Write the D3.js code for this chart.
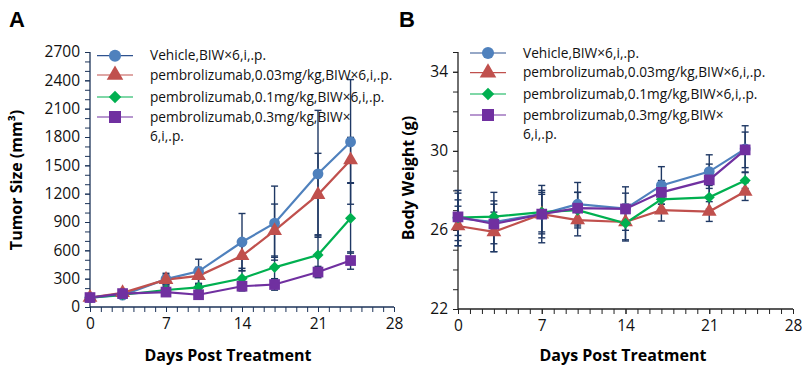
<!DOCTYPE html>
<html>
<head>
<meta charset="utf-8">
<script src="https://cdn.jsdelivr.net/npm/d3@7"></script>
<style>
  body { margin: 0; background: #fff; }
  text { font-family: "Open Sans", "Noto Sans", sans-serif; }
</style>
</head>
<body>
<svg id="chart" width="805" height="371"></svg>
<script>
// Shared x values (days post treatment)
const days = [0, 3, 7, 10, 14, 17, 21, 24];

const seriesLabels = [
    ["Vehicle,BIW×6,i,.p."],
    ["pembrolizumab,0.03mg/kg,BIW×6,i,.p."],
    ["pembrolizumab,0.1mg/kg,BIW×6,i,.p."],
    ["pembrolizumab,0.3mg/kg,BIW×", "6,i,.p."]
];
const seriesColors = ["#4f81bd", "#c0504d", "#00b050", "#7030a0"];
const seriesShapes = ["circle", "triangle", "diamond", "square"];

// Tumor size (mm3) means and SDs
const tumorVehicle = [100, 125, 295, 378, 688, 888, 1410, 1748];
const tumorP003 = [100, 150, 290, 330, 542, 808, 1190, 1556];
const tumorP01 = [100, 130, 180, 208, 302, 420, 550, 940];
const tumorP03 = [100, 142, 158, 130, 220, 238, 370, 492];
const tumorVehicleSD = [20, 25, 62, 128, 302, 392, 672, 660];
const tumorP003SD = [15, 25, 50, 90, 160, 282, 437, 240];
const tumorP01SD = [15, 20, 40, 40, 108, 120, 215, 370];
const tumorP03SD = [15, 20, 30, 30, 50, 60, 60, 92];

// Body weight (g) means and SDs
const weightVehicle = [26.6, 26.4, 26.8, 27.3, 27.08, 28.25, 28.95, 30.1];
const weightP003 = [26.2, 25.9, 26.8, 26.5, 26.4, 27.0, 26.93, 27.94];
const weightP01 = [26.62, 26.67, 26.9, 27.0, 26.34, 27.55, 27.65, 28.5];
const weightP03 = [26.66, 26.3, 26.8, 27.1, 27.06, 27.9, 28.53, 30.05];
const weightVehicleSD = [1.4, 1.5, 1.45, 1.1, 1.1, 0.95, 0.85, 1.17];
const weightP003SD = [1.0, 1.0, 1.2, 0.8, 0.9, 0.55, 0.5, 0.45];
const weightP01SD = [0.9, 0.8, 1.0, 0.9, 0.9, 0.6, 0.6, 0.4];
const weightP03SD = [1.2, 1.0, 1.0, 0.8, 0.8, 0.6, 0.8, 0.9];

const xTicks = [0, 7, 14, 21, 28];
const tumorTicks = [0, 300, 600, 900, 1200, 1500, 1800, 2100, 2400, 2700];
const weightTicks = [22, 26, 30, 34];

const errColor = "#1f3864";
const svg = d3.select("#chart");

function buildSeries(means, sds) {
    return means.map((m, i) => ({
        label: seriesLabels[i],
        color: seriesColors[i],
        shape: seriesShapes[i],
        points: days.map((d, j) => ({ day: d, value: m[j], sd: sds[i][j] }))
    }));
}

function markerPath(shape, big) {
    const k = big ? 1.25 : 1;
    if (shape === "circle") return d3.symbol(d3.symbolCircle, 92 * k)();
    if (shape === "triangle") return d3.symbol(d3.symbolTriangle, 95 * k)();
    if (shape === "square") return d3.symbol(d3.symbolSquare, 115 * k)();
    return d3.symbol(d3.symbolSquare, 62 * k)();
}

function drawPanel(opt) {
    const g = svg.append("g");
    const x = d3.scaleLinear().domain([0, 28]).range([opt.left, opt.right]);
    const y = d3.scaleLinear().domain(opt.yDomain).range([opt.bottom, opt.top]);

    // minor ticks
    g.append("g")
        .attr("transform", "translate(0," + opt.bottom + ")")
        .call(d3.axisBottom(x).tickValues(d3.range(0, 29)).tickSize(5).tickFormat(""))
        .call(a => a.select(".domain").remove())
        .selectAll("line").attr("stroke", opt.axisColor);
    g.append("g")
        .attr("transform", "translate(" + opt.left + ",0)")
        .call(d3.axisLeft(y).tickValues(opt.minorTicks).tickSize(5).tickFormat(""))
        .call(a => a.select(".domain").remove())
        .selectAll("line").attr("stroke", opt.axisColor);

    // major axes
    const xa = g.append("g")
        .attr("transform", "translate(0," + opt.bottom + ")")
        .call(d3.axisBottom(x).tickValues(xTicks).tickSize(5).tickPadding(6).tickSizeOuter(0));
    const ya = g.append("g")
        .attr("transform", "translate(" + opt.left + ",0)")
        .call(d3.axisLeft(y).tickValues(opt.ticks).tickFormat(d3.format("d")).tickSize(5).tickPadding(5).tickSizeOuter(0));
    [xa, ya].forEach(a => {
        a.select(".domain").attr("stroke", opt.axisColor).attr("stroke-width", 1.3);
        a.selectAll("line").attr("stroke", opt.axisColor);
        a.selectAll("text").attr("fill", "#111").style("font-size", "15.5px");
    });
    ya.select(".domain").attr("d", "M0," + opt.bottom + "V" + opt.top);
    xa.select(".domain").attr("d", "M" + opt.left + ",0H" + opt.right);

    // error bars
    const eb = g.append("g").attr("stroke", errColor).attr("stroke-width", 1.4);
    opt.series.forEach(s => {
        s.points.forEach(p => {
            const cx = x(p.day), y1 = y(p.value + p.sd), y0 = y(p.value - p.sd);
            eb.append("line").attr("x1", cx).attr("x2", cx).attr("y1", y1).attr("y2", y0);
            eb.append("line").attr("x1", cx - 3.5).attr("x2", cx + 3.5).attr("y1", y1).attr("y2", y1);
            eb.append("line").attr("x1", cx - 3.5).attr("x2", cx + 3.5).attr("y1", y0).attr("y2", y0);
        });
    });

    // lines
    const line = d3.line().x(p => x(p.day)).y(p => y(p.value));
    opt.series.forEach(s => {
        g.append("path").datum(s.points)
            .attr("d", line)
            .attr("fill", "none")
            .attr("stroke", s.color)
            .attr("stroke-width", 2.2);
    });

    // markers
    opt.series.forEach(s => {
        g.selectAll(null).data(s.points).enter().append("path")
            .attr("d", markerPath(s.shape, false))
            .attr("transform", p => "translate(" + x(p.day) + "," + y(p.value) + ")" + (s.shape === "diamond" ? " rotate(45)" : ""))
            .attr("fill", s.color);
    });

    // legend
    const lg = g.append("g");
    opt.series.forEach((s, i) => {
        const ly = opt.legendRows[i];
        lg.append("line")
            .attr("x1", opt.legendX - 18).attr("x2", opt.legendX + 18)
            .attr("y1", ly).attr("y2", ly)
            .attr("stroke", i === 0 ? "#2f528f" : s.color).attr("stroke-width", 1.2);
        lg.append("path")
            .attr("d", markerPath(s.shape, true))
            .attr("transform", "translate(" + opt.legendX + "," + ly + ")" + (s.shape === "diamond" ? " rotate(45)" : ""))
            .attr("fill", s.color);
        s.label.forEach((t, k) => {
            lg.append("text")
                .attr("x", opt.legendX + 35)
                .attr("y", ly + k * 19)
                .attr("dy", "0.35em")
                .style("font-size", "13.7px")
                .attr("fill", "#111")
                .text(t);
        });
    });

    // axis titles
    g.append("text")
        .attr("x", opt.xTitleX).attr("y", 361)
        .attr("text-anchor", "middle")
        .style("font-size", "16px").style("font-weight", "bold")
        .text("Days Post Treatment");
    g.append("text")
        .attr("transform", "translate(" + opt.yTitleX + "," + opt.yTitleY + ") rotate(-90)")
        .attr("text-anchor", "middle")
        .style("font-size", "16px").style("font-weight", "bold")
        .text(opt.yTitle);

    // panel letter
    g.append("text")
        .attr("x", opt.letterX).attr("y", 27)
        .style("font-family", "'Liberation Sans', Arial, sans-serif")
        .style("font-size", "22px").style("font-weight", "bold")
        .text(opt.letter);
}

drawPanel({
    letter: "A", letterX: 9,
    left: 90, right: 394, top: 52, bottom: 307,
    yDomain: [0, 2700], ticks: tumorTicks, minorTicks: d3.range(0, 2701, 100),
    axisColor: "#1c3358",
    series: buildSeries([tumorVehicle, tumorP003, tumorP01, tumorP03],
                        [tumorVehicleSD, tumorP003SD, tumorP01SD, tumorP03SD]),
    legendX: 115, legendRows: [55.7, 75, 97, 117],
    xTitleX: 228, yTitleX: 22, yTitleY: 180, yTitle: "Tumor Size (mm³)"
});

drawPanel({
    letter: "B", letterX: 399,
    left: 458, right: 793, top: 52, bottom: 309,
    yDomain: [22, 35], ticks: weightTicks, minorTicks: d3.range(22, 36, 1),
    axisColor: "#222",
    series: buildSeries([weightVehicle, weightP003, weightP01, weightP03],
                        [weightVehicleSD, weightP003SD, weightP01SD, weightP03SD]),
    legendX: 488, legendRows: [53, 72.7, 94, 115],
    xTitleX: 623, yTitleX: 414, yTitleY: 178, yTitle: "Body Weight (g)"
});
</script>
</body>
</html>
